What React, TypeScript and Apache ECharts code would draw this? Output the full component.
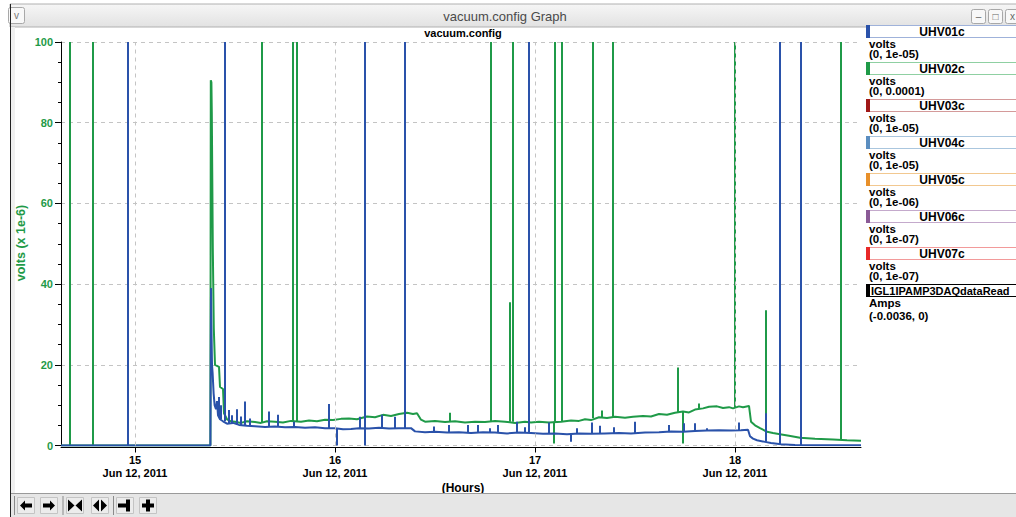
import React, { useEffect, useRef } from "react";
import * as echarts from "echarts";

const FONT = '"Liberation Sans", Arial, Helvetica, sans-serif';
const GREEN = "#1f9a48";
const BLUE = "#2a52aa";

const X_MIN = 14.63;
const X_MAX = 18.63;
const hourTicks = [15, 16, 17, 18];
const dateLabel = "Jun 12, 2011";
const windowTitle = "vacuum.config Graph";
const chartTitle = "vacuum.config";
const yName = "volts (x 1e-6)";
const xName = "(Hours)";

// UHV02c (green) baseline, display units (x 1e-6)
const greenHours = [
  14.63, 15.377, 15.379, 15.382, 15.384, 15.389, 15.394, 15.4, 15.42, 15.425, 15.44, 15.445,
  15.46, 15.48, 15.5, 15.53, 15.56, 15.6, 15.63, 15.66, 15.7, 15.74, 15.78, 15.83, 15.87,
  15.91, 15.95, 15.99, 16.03, 16.07, 16.11, 16.16, 16.2, 16.24, 16.28, 16.32, 16.36, 16.39,
  16.41, 16.43, 16.45, 16.5, 16.55, 16.6, 16.65, 16.7, 16.75, 16.8, 16.85, 16.9, 16.95,
  16.98, 17.02, 17.07, 17.13, 17.18, 17.22, 17.25, 17.28, 17.32, 17.36, 17.4, 17.45, 17.49,
  17.54, 17.58, 17.62, 17.66, 17.7, 17.74, 17.77, 17.8, 17.84, 17.87, 17.91, 17.94, 17.97,
  17.99, 18.02, 18.04, 18.07, 18.08, 18.1, 18.125, 18.16, 18.19, 18.225, 18.27, 18.325,
  18.4, 18.49, 18.56, 18.63,
];
const greenValues = [
  0, 0, 90.5, 90, 82.5, 49, 29, 20, 19.5, 14.5, 14, 8,
  6.5, 6.0, 5.9, 5.6, 6.0, 5.8, 5.6, 6.0, 5.9, 5.7, 6.1, 5.9, 6.2,
  6.0, 6.4, 6.3, 6.6, 6.7, 6.5, 7.2, 7.0, 7.6, 7.3, 7.8, 8.1, 7.8,
  8.0, 6.4, 5.9, 6.1, 5.8, 6.0, 5.7, 5.9, 5.8, 6.1, 5.9, 5.6, 5.9,
  5.7, 5.9, 5.7, 5.9, 6.2, 6.1, 6.5, 6.3, 7.0, 6.8, 7.1, 6.9, 7.1,
  7.3, 7.2, 7.8, 7.6, 8.1, 8.4, 8.2, 8.9, 9.2, 9.6, 9.7, 9.3, 9.5,
  9.2, 9.7, 9.5, 9.8, 5.9, 5.0, 4.3, 3.4, 3.1, 2.8, 2.4, 1.9,
  1.7, 1.5, 1.3, 1.2,
];
// [hour, from, to]
const greenSpikes: [number, number, number][] = [
  [14.674, 0, 100], [14.789, 0, 100], [15.634, 5.8, 100], [15.789, 5.9, 100],
  [15.809, 5.9, 100], [16.777, 5.8, 100], [16.875, 5.9, 35.5], [16.89, 5.9, 100],
  [17.1, 5.9, 100], [17.134, 5.9, 100], [17.289, 6.8, 100], [17.387, 7.0, 100],
  [17.715, 8.2, 19.3], [18.0, 9.3, 100], [18.155, 3.5, 33.5], [18.53, 1.4, 100],
  [17.095, 5.9, 0.5], [17.74, 8.4, 0.5], [16.575, 5.8, 8.1], [17.335, 7.0, 8.7],
  [17.39, 7.0, 8.8], [17.82, 9.0, 10.4],
];

// UHV01c (blue) baseline
const blueHours = [
  14.63, 15.377, 15.38, 15.382, 15.385, 15.388, 15.393, 15.398, 15.405, 15.41, 15.415,
  15.425, 15.44, 15.46, 15.49, 15.52, 15.56, 15.6, 15.65, 15.7, 15.75, 15.8, 15.85, 15.9,
  15.95, 16.0, 16.04, 16.08, 16.12, 16.17, 16.22, 16.27, 16.32, 16.38, 16.4, 16.45, 16.5,
  16.56, 16.62, 16.68, 16.74, 16.8, 16.86, 16.92, 16.98, 17.04, 17.1, 17.16, 17.22, 17.28,
  17.35, 17.42, 17.48, 17.55, 17.62, 17.68, 17.74, 17.8, 17.86, 17.92, 17.98, 18.03,
  18.065, 18.075, 18.09, 18.11, 18.15, 18.18, 18.23, 18.3, 18.4, 18.63,
];
const blueValues = [
  0, 0, 39, 30, 20, 18, 13, 10, 9, 11, 7.5,
  6.5, 6, 5.4, 5.6, 5.1, 4.9, 4.8, 4.6, 4.7, 4.5, 4.6, 4.4, 4.5,
  4.3, 4.3, 4.0, 4.1, 4.3, 4.2, 4.4, 4.2, 4.3, 4.3, 3.5, 3.3, 3.4,
  3.2, 3.3, 3.1, 3.3, 3.2, 3.0, 3.2, 3.1, 2.9, 3.0, 2.8, 3.0, 2.9,
  3.0, 3.1, 3.0, 3.2, 3.3, 3.5, 3.4, 3.6, 3.7, 3.8, 3.7, 3.8,
  3.9, 2.3, 1.7, 1.3, 0.9, 0.6, 0.3, 0.1, 0.05, 0.05,
];
const blueSpikes: [number, number, number][] = [
  [14.964, 0, 100], [15.45, 6, 100], [16.15, 0, 100], [16.35, 4.3, 100],
  [16.967, 3.1, 100], [18.225, 0.3, 100], [18.33, 0.1, 100],
  [16.01, 4.3, 0], [17.18, 2.9, 0.9],
  [15.467, 5.6, 8.8], [15.509, 5.2, 9.0], [15.55, 4.9, 10.9], [15.575, 4.9, 6.7],
  [15.667, 4.7, 8.4], [15.712, 4.6, 7.6], [15.795, 4.5, 5.9], [15.967, 4.3, 10.3],
  [16.125, 4.3, 7.1], [16.234, 4.2, 7.6], [16.3, 4.3, 7.1], [16.492, 3.3, 4.7],
  [16.567, 3.3, 5.1], [16.665, 3.2, 5.1], [16.715, 3.2, 5.1], [16.775, 3.2, 4.3],
  [16.814, 3.2, 5.1], [16.909, 3.1, 5.9], [16.95, 3.1, 4.5], [17.067, 2.9, 5.7],
  [17.209, 2.9, 4.3], [17.284, 2.9, 5.7], [17.325, 3.0, 4.9], [17.395, 3.0, 4.5],
  [17.5, 3.1, 5.9], [17.667, 3.4, 5.1], [17.745, 3.5, 5.5], [17.8, 3.6, 5.5],
  [17.859, 3.7, 4.3], [18.02, 3.8, 5.7], [18.155, 0.9, 8.0],
  [15.42, 7, 12], [15.43, 6.5, 10], [15.485, 5.5, 7.5], [15.53, 5.0, 7.2],
];

// Legend panel
const legendNames = ["UHV01c", "UHV02c", "UHV03c", "UHV04c", "UHV05c", "UHV06c", "UHV07c", "IGL1IPAMP3DAQdataRead"];
const legendUnits = ["volts", "volts", "volts", "volts", "volts", "volts", "volts", "Amps"];
const legendRanges = ["(0, 1e-05)", "(0, 0.0001)", "(0, 1e-05)", "(0, 1e-05)", "(0, 1e-06)", "(0, 1e-07)", "(0, 1e-07)", "(-0.0036, 0)"];
const legendColors = ["#2a52aa", "#1f9a48", "#a01818", "#5b8ec0", "#e8902a", "#8a5a96", "#e82828", "#000000"];
const legendBorders = ["#9fb2da", "#8fd0a2", "#d49a9a", "#aac6de", "#f2c890", "#c4aacc", "#f29a9a", "#000000"];

function buildGraphic() {
  const els: any[] = [];
  const txt = (text: string, x: number, y: number, font: string, fill: string, align = "center", extra: any = {}) => ({
    type: "text",
    x,
    y,
    silent: true,
    ...extra,
    style: { text, font, fill, align, verticalAlign: "middle", textAlign: align, textVerticalAlign: "middle" },
  });
  // title bar
  els.push({
    type: "rect", silent: true,
    shape: { x: 10, y: 4, width: 1010, height: 23 },
    style: {
      fill: new echarts.graphic.LinearGradient(0, 0, 0, 1, [
        { offset: 0, color: "#f6f6f6" },
        { offset: 1, color: "#e2e2e2" },
      ]),
      stroke: "#b0b0b0", lineWidth: 1,
    },
  });
  els.push(txt(windowTitle, 505, 16, `13px ${FONT}`, "#4a4a4a"));
  els.push({ type: "rect", silent: true, shape: { x: 8.5, y: 7.5, width: 16, height: 16, r: 2 }, style: { fill: "#f8f8f8", stroke: "#a8a8a8" } });
  els.push(txt("v", 16.5, 15, `10px ${FONT}`, "#777"));
  [971, 988, 1005].forEach((bx, i) => {
    els.push({ type: "rect", silent: true, shape: { x: bx + 0.5, y: 9.5, width: 14, height: 14, r: 2 }, style: { fill: "#f8f8f8", stroke: "#a8a8a8" } });
    els.push(txt(["–", "□", "x"][i], bx + 7.5, 16, `10px ${FONT}`, "#666"));
  });
  // left frame
  els.push({ type: "line", silent: true, shape: { x1: 10.5, y1: 4, x2: 10.5, y2: 517 }, style: { stroke: "#222", lineWidth: 1 } });
  els.push({ type: "rect", silent: true, shape: { x: 11, y: 27, width: 4, height: 466 }, style: { fill: "#f0f0f0" } });
  // chart title, axis names
  els.push(txt(chartTitle, 463, 33, `bold 11px ${FONT}`, "#000"));
  els.push(txt(yName, 21, 243, `bold 12.5px ${FONT}`, GREEN, "center", { rotation: Math.PI / 2 }));
  els.push(txt(xName, 463, 487.5, `bold 12px ${FONT}`, "#000"));
  // legend
  legendNames.forEach((name, i) => {
    const c = 32 + 37 * i;
    const isLast = i === legendNames.length - 1;
    els.push({ type: "rect", silent: true, shape: { x: 866.5, y: c - 6.5, width: 160, height: 12 }, style: { fill: "#fff", stroke: legendBorders[i], lineWidth: 1 } });
    els.push({ type: "rect", silent: true, shape: { x: 866, y: c - 7, width: 4, height: 13 }, style: { fill: legendColors[i] } });
    if (isLast) {
      els.push(txt(name, 871, c, `bold 11px ${FONT}`, "#000", "left"));
    } else {
      els.push(txt(name, 942, c, `bold 12px ${FONT}`, "#000"));
    }
    els.push(txt(legendUnits[i], 869, c + 12, `bold 11.5px ${FONT}`, "#000", "left"));
    els.push(txt(legendRanges[i], 869, c + (isLast ? 25 : 22), `bold 11.5px ${FONT}`, "#000", "left"));
  });
  // bottom toolbar
  els.push({ type: "rect", silent: true, shape: { x: 11, y: 494, width: 1005, height: 23 }, style: { fill: "#e6e6e6" } });
  els.push({ type: "line", silent: true, shape: { x1: 11, y1: 493.5, x2: 1016, y2: 493.5 }, style: { stroke: "#9a9a9a" } });
  [14.5, 63, 113.5].forEach((sx) => {
    els.push({ type: "line", silent: true, shape: { x1: sx, y1: 496, x2: sx, y2: 515 }, style: { stroke: "#8a8a8a" } });
  });
  const cy = 505.5;
  const centers = [26, 49, 75, 100, 125, 148];
  centers.forEach((cx) => {
    els.push({ type: "rect", silent: true, shape: { x: cx - 8.5, y: 497.5, width: 17, height: 16 }, style: { fill: "#ececec", stroke: "#c4c4c4" } });
  });
  const poly = (pts: number[][]) => ({ type: "polygon", silent: true, shape: { points: pts }, style: { fill: "#000" } });
  const box = (x: number, y: number, w: number, h: number) => ({ type: "rect", silent: true, shape: { x, y, width: w, height: h }, style: { fill: "#000" } });
  let cx = centers[0];
  els.push(poly([[cx - 6, cy], [cx - 1, cy - 5], [cx - 1, cy - 2], [cx + 6, cy - 2], [cx + 6, cy + 2], [cx - 1, cy + 2], [cx - 1, cy + 5]]));
  cx = centers[1];
  els.push(poly([[cx + 6, cy], [cx + 1, cy - 5], [cx + 1, cy - 2], [cx - 6, cy - 2], [cx - 6, cy + 2], [cx + 1, cy + 2], [cx + 1, cy + 5]]));
  cx = centers[2];
  els.push(poly([[cx - 7, cy - 6], [cx - 0.5, cy], [cx - 7, cy + 6]]));
  els.push(poly([[cx + 7, cy - 6], [cx + 0.5, cy], [cx + 7, cy + 6]]));
  cx = centers[3];
  els.push(poly([[cx - 1, cy - 6], [cx - 7, cy], [cx - 1, cy + 6]]));
  els.push(poly([[cx + 1, cy - 6], [cx + 7, cy], [cx + 1, cy + 6]]));
  cx = centers[4];
  els.push(box(cx - 7, cy - 2, 8, 4));
  els.push(box(cx + 1, cy - 6, 4, 12));
  cx = centers[5];
  els.push(box(cx - 6, cy - 2, 12, 4));
  els.push(box(cx - 2, cy - 6, 4, 12));
  return els;
}

export default function App() {
  const ref = useRef<HTMLDivElement>(null);
  useEffect(() => {
    if (!ref.current) return;
    const chart = echarts.init(ref.current, undefined, { renderer: "svg" });
    const option: any = {
      animation: false,
      backgroundColor: "#ffffff",
      textStyle: { fontFamily: FONT },
      grid: { left: 61, top: 42, width: 800, height: 403.5, containLabel: false },
      xAxis: {
        type: "value",
        min: X_MIN,
        max: X_MAX,
        offset: 2,
        axisLine: { show: true, onZero: false, lineStyle: { color: "#000", width: 1 } },
        axisTick: { show: true, customValues: hourTicks, length: 5, lineStyle: { color: "#000" } },
        axisLabel: {
          customValues: hourTicks,
          formatter: (v: number) => `${v}\n${dateLabel}`,
          color: "#000",
          fontWeight: "bold",
          fontSize: 11,
          lineHeight: 13,
          margin: 6,
          fontFamily: FONT,
        },
        splitLine: { show: false },
      },
      yAxis: {
        type: "value",
        min: 0,
        max: 100,
        interval: 20,
        axisLine: { show: true, lineStyle: { color: "#000" } },
        axisTick: { show: true, length: 6, lineStyle: { color: "#000" } },
        minorTick: { show: true, splitNumber: 4, length: 3, lineStyle: { color: "#000" } },
        axisLabel: { color: GREEN, fontWeight: "bold", fontSize: 11, margin: 8, fontFamily: FONT },
        splitLine: { show: true, lineStyle: { color: "#c4c4c4", type: [4, 4], width: 1 } },
      },
      series: [
        {
          type: "line",
          name: "UHV02c",
          data: greenHours.map((h, i) => [h, greenValues[i]]),
          showSymbol: false,
          symbol: "none",
          lineStyle: { color: GREEN, width: 2 },
          z: 2,
          silent: true,
          markLine: {
            silent: true,
            symbol: ["none", "none"],
            label: { show: false },
            lineStyle: { color: "#c4c4c4", type: [4, 4], width: 1 },
            data: hourTicks.map((h) => ({ xAxis: h })),
          },
        },
        {
          type: "lines",
          coordinateSystem: "cartesian2d",
          data: greenSpikes.map(([h, a, b]) => ({ coords: [[h, a], [h, b]] })),
          lineStyle: { color: GREEN, width: 2, opacity: 1, curveness: 0 },
          z: 2,
          silent: true,
        },
        {
          type: "line",
          name: "UHV01c",
          data: blueHours.map((h, i) => [h, blueValues[i]]),
          showSymbol: false,
          symbol: "none",
          lineStyle: { color: BLUE, width: 2 },
          z: 3,
          silent: true,
        },
        {
          type: "lines",
          coordinateSystem: "cartesian2d",
          data: blueSpikes.map(([h, a, b]) => ({ coords: [[h, a], [h, b]] })),
          lineStyle: { color: BLUE, width: 2, opacity: 1, curveness: 0 },
          z: 3,
          silent: true,
        },
      ],
      graphic: { elements: buildGraphic() },
    };
    chart.setOption(option);
    return () => chart.dispose();
  }, []);
  return <div ref={ref} style={{ position: "absolute", left: 0, top: 0, width: 1016, height: 517 }} />;
}
